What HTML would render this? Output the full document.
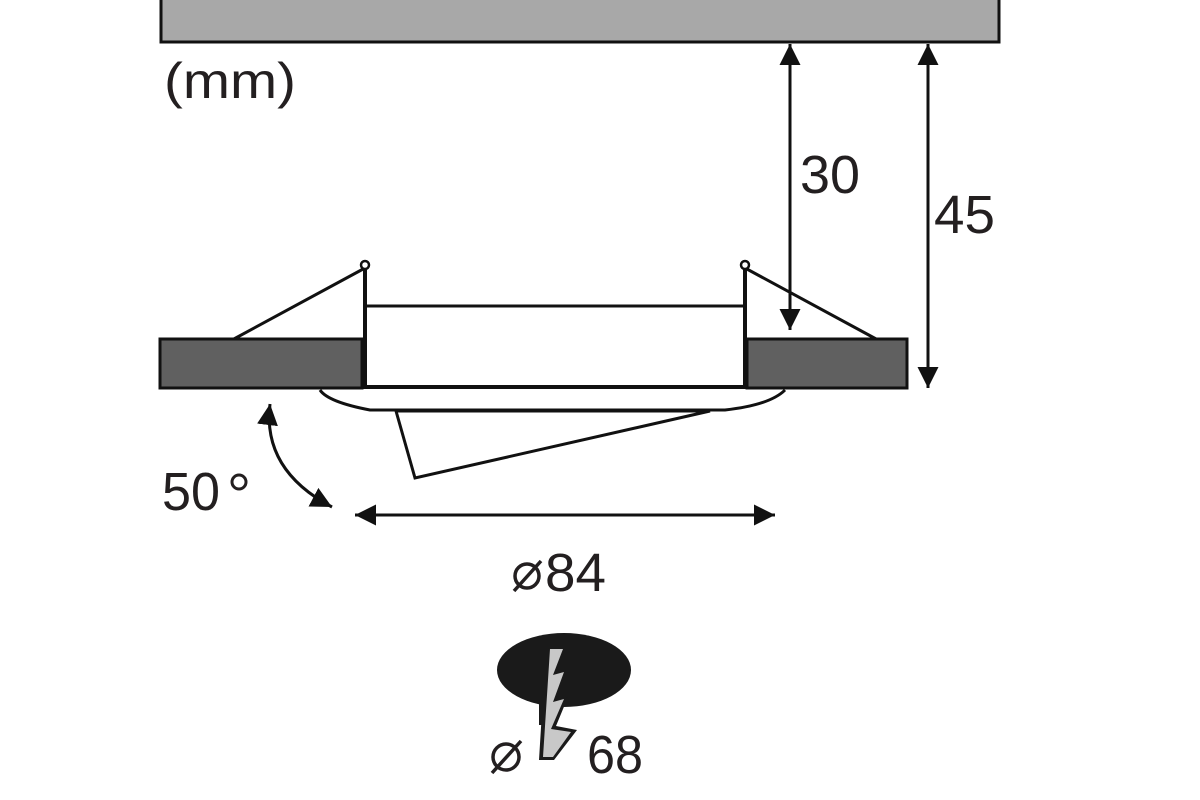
<!DOCTYPE html>
<html><head><meta charset="utf-8"><style>
html,body{margin:0;padding:0;background:#fff;}
svg{display:block;}
text{font-family:"Liberation Sans","DejaVu Sans",sans-serif;fill:#231f20;}
</style></head><body>
<svg width="1200" height="800" viewBox="0 0 1200 800">
<defs>
<marker id="ah" viewBox="0 0 10 10" refX="10" refY="5" markerWidth="7" markerHeight="7" orient="auto-start-reverse"><path d="M0,0 L10,5 L0,10 Z" fill="#111"/></marker>
</defs>
<rect x="161" y="-3" width="838" height="45" fill="#a8a8a8" stroke="#111" stroke-width="3"/>
<text x="164" y="98" font-size="50" textLength="132" lengthAdjust="spacingAndGlyphs">(mm)</text>
<line x1="790" y1="44" x2="790" y2="330" stroke="#111" stroke-width="3" marker-start="url(#ah)" marker-end="url(#ah)"/>
<text x="800" y="193" font-size="54" textLength="60" lengthAdjust="spacingAndGlyphs">30</text>
<line x1="928" y1="44" x2="928" y2="388" stroke="#111" stroke-width="3" marker-start="url(#ah)" marker-end="url(#ah)"/>
<text x="934" y="233" font-size="54" textLength="61" lengthAdjust="spacingAndGlyphs">45</text>
<line x1="365" y1="268" x2="232" y2="340" stroke="#111" stroke-width="3"/>
<line x1="745" y1="268" x2="878" y2="340" stroke="#111" stroke-width="3"/>
<rect x="160" y="339" width="202" height="49" fill="#606060" stroke="#111" stroke-width="3"/>
<rect x="747" y="339" width="160" height="49" fill="#606060" stroke="#111" stroke-width="3"/>
<line x1="365" y1="270" x2="365" y2="388" stroke="#111" stroke-width="4"/>
<line x1="745" y1="270" x2="745" y2="388" stroke="#111" stroke-width="4"/>
<line x1="365" y1="306" x2="745" y2="306" stroke="#111" stroke-width="3"/>
<line x1="362" y1="387" x2="747" y2="387" stroke="#111" stroke-width="4"/>
<circle cx="365" cy="265" r="4" fill="#fff" stroke="#111" stroke-width="2.5"/>
<circle cx="745" cy="265" r="4" fill="#fff" stroke="#111" stroke-width="2.5"/>
<path d="M320,390 Q328,402 370,410 L725,410 Q770,405 785,390" fill="none" stroke="#111" stroke-width="3"/>
<polygon points="396,411 415,478 710,411" fill="#fff" stroke="#111" stroke-width="3"/>
<path d="M270,404 Q262,470 332,507" fill="none" stroke="#111" stroke-width="3" marker-start="url(#ah)" marker-end="url(#ah)"/>
<text x="162" y="510" font-size="54" textLength="58" lengthAdjust="spacingAndGlyphs">50</text>
<circle cx="239" cy="482" r="7" fill="none" stroke="#231f20" stroke-width="3"/>
<line x1="355" y1="515" x2="775" y2="515" stroke="#111" stroke-width="3" marker-start="url(#ah)" marker-end="url(#ah)"/>
<circle cx="527" cy="576" r="12" fill="none" stroke="#231f20" stroke-width="3.5"/>
<line x1="514" y1="591" x2="541" y2="561" stroke="#231f20" stroke-width="3.5"/>
<text x="545" y="591" font-size="54" textLength="61" lengthAdjust="spacingAndGlyphs">84</text>
<ellipse cx="564" cy="670" rx="67" ry="37" fill="#1a1a1a"/>
<rect x="539" y="690" width="12" height="35" fill="#1a1a1a"/>
<polygon points="546,646 567,646 557,672 568,670 557,700 568,697 556,726 577,730 554,760 539,760" fill="#1a1a1a"/>
<polygon points="550,649 563,649 553,675 564,672 553,702 564,699 551,729 571,732 553,757 543,757" fill="#c8c8c8"/>
<circle cx="506" cy="757" r="13" fill="none" stroke="#231f20" stroke-width="3.5"/>
<line x1="492" y1="773" x2="521" y2="741" stroke="#231f20" stroke-width="3.5"/>
<text x="587" y="773" font-size="54" textLength="56" lengthAdjust="spacingAndGlyphs">68</text>
</svg>
</body></html>
